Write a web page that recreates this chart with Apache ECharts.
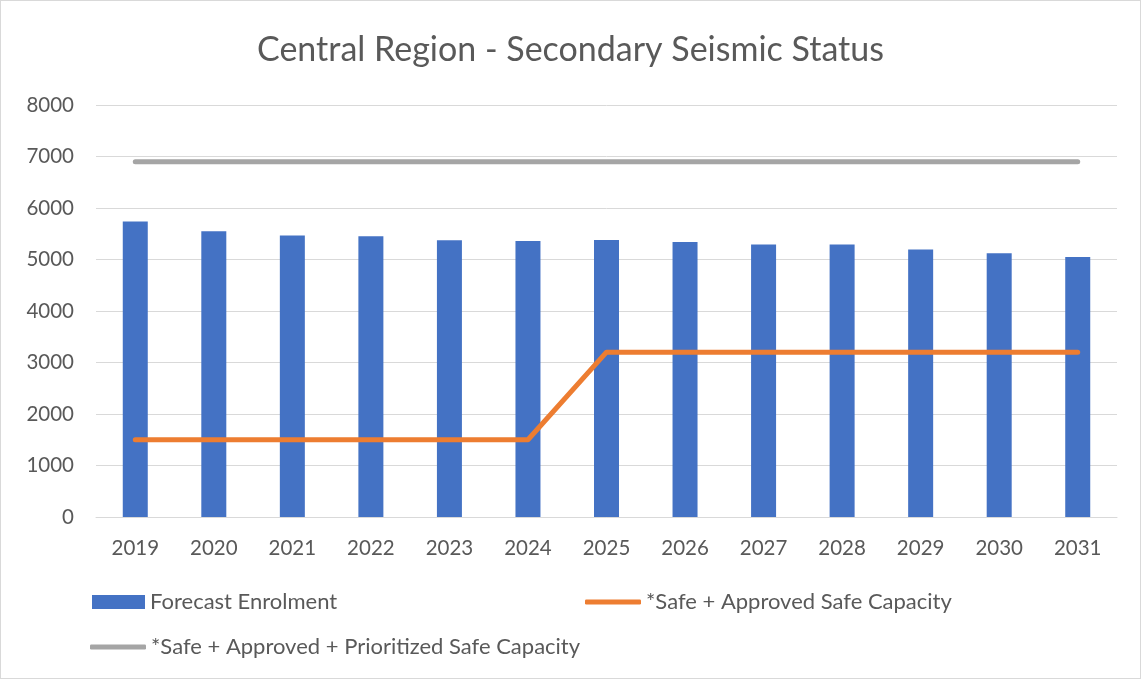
<!DOCTYPE html>
<html>
<head>
<meta charset="utf-8">
<script src="https://cdn.jsdelivr.net/npm/echarts@6/dist/echarts.min.js"></script>
<style>
  html, body { margin: 0; padding: 0; background: #fff; }
  #chart { width: 1139px; height: 677px; border: 1px solid #d9d9d9; }
</style>
</head>
<body>
<div id="chart"></div>
<script>
// chart data
var years = ['2019', '2020', '2021', '2022', '2023', '2024', '2025', '2026', '2027', '2028', '2029', '2030', '2031'];
var enrolment = [5740, 5550, 5465, 5450, 5375, 5360, 5380, 5340, 5290, 5290, 5195, 5120, 5050];
var safeCapacity = [1500, 1500, 1500, 1500, 1500, 1500, 3200, 3200, 3200, 3200, 3200, 3200, 3200];
var prioritizedCapacity = [6900, 6900, 6900, 6900, 6900, 6900, 6900, 6900, 6900, 6900, 6900, 6900, 6900];

var chartDom = document.getElementById('chart');
var myChart = echarts.init(chartDom);
var option;

var textColor = '#595959';
var fontName = 'Lato, "Open Sans", sans-serif';

option = {
  animation: false,
  textStyle: { fontFamily: fontName, color: textColor },
  title: {
    text: 'Central Region - Secondary Seismic Status',
    left: 'center',
    top: 27,
    textStyle: { fontSize: 34, fontWeight: 'normal', color: textColor, fontFamily: fontName }
  },
  grid: { left: 95, right: 23, top: 104, bottom: 161 },
  legend: [
    {
      data: ['Forecast Enrolment'],
      left: 86, top: 585,
      icon: 'rect',
      itemWidth: 53, itemHeight: 14, itemGap: 5,
      textStyle: { fontSize: 22, color: textColor, fontFamily: fontName }
    },
    {
      data: ['*Safe + Approved Safe Capacity'],
      left: 579, top: 585,
      icon: 'roundRect',
      itemWidth: 56, itemHeight: 5, itemGap: 4,
      textStyle: { fontSize: 22, color: textColor, fontFamily: fontName }
    },
    {
      data: ['*Safe + Approved + Prioritized Safe Capacity'],
      left: 84, top: 630,
      icon: 'roundRect',
      itemWidth: 56, itemHeight: 5, itemGap: 4,
      textStyle: { fontSize: 22, color: textColor, fontFamily: fontName }
    }
  ],
  xAxis: {
    type: 'category',
    data: years,
    axisLine: { lineStyle: { color: '#d9d9d9', width: 1 } },
    axisTick: { show: false },
    axisLabel: { fontSize: 20.5, color: textColor, margin: 21, fontFamily: fontName }
  },
  yAxis: {
    type: 'value',
    min: 0, max: 8000, interval: 1000,
    axisLine: { show: false },
    axisTick: { show: false },
    axisLabel: {
      fontSize: 20.5, color: textColor, margin: 22, fontFamily: fontName,
      formatter: function (v) { return String(v); }
    },
    splitLine: { lineStyle: { color: '#d9d9d9', width: 1 } }
  },
  series: [
    {
      name: 'Forecast Enrolment',
      type: 'bar',
      data: enrolment,
      barWidth: 25,
      itemStyle: { color: '#4472C4' }
    },
    {
      name: '*Safe + Approved Safe Capacity',
      type: 'line',
      data: safeCapacity,
      symbol: 'none',
      lineStyle: { color: '#ED7D31', width: 5, cap: 'round', join: 'round' },
      itemStyle: { color: '#ED7D31' }
    },
    {
      name: '*Safe + Approved + Prioritized Safe Capacity',
      type: 'line',
      data: prioritizedCapacity,
      symbol: 'none',
      lineStyle: { color: '#A5A5A5', width: 5, cap: 'round', join: 'round' },
      itemStyle: { color: '#A5A5A5' }
    }
  ]
};

option && myChart.setOption(option);
</script>
</body>
</html>
